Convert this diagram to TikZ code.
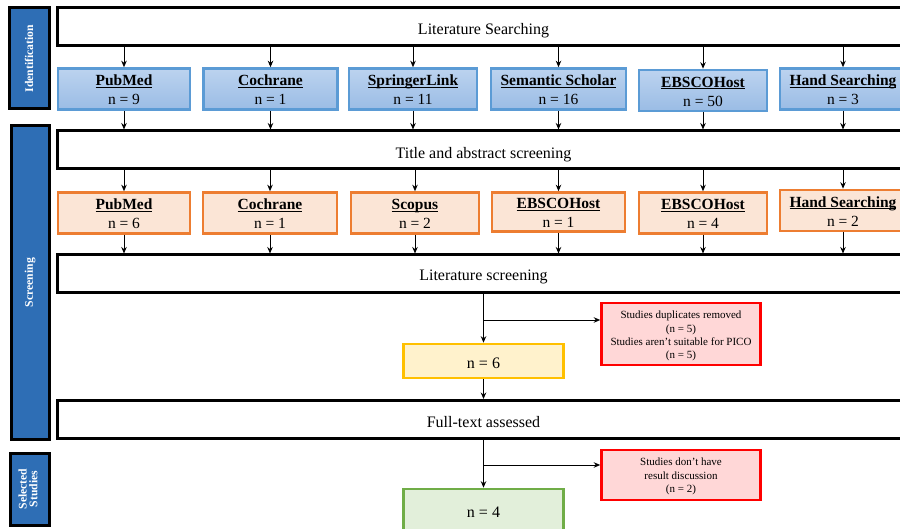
\documentclass[tikz,border=0pt]{standalone}
\usepackage{fontspec}
\setmainfont{Liberation Serif}
\usetikzlibrary{arrows.meta}
\definecolor{side}{HTML}{2E6EB5}
\definecolor{bluetop}{HTML}{BCD3EF}
\definecolor{bluebot}{HTML}{9ABCE5}
\definecolor{blueline}{HTML}{5B9BD5}
\definecolor{orfill}{HTML}{FBE5D6}
\definecolor{orline}{HTML}{ED7D31}
\definecolor{redfill}{HTML}{FFD7D7}
\definecolor{redline}{HTML}{FF0000}
\definecolor{yelfill}{HTML}{FFF2CC}
\definecolor{yelline}{HTML}{FFC000}
\definecolor{grnfill}{HTML}{E2EFDA}
\definecolor{grnline}{HTML}{70AD47}
\tikzset{
  sidebox/.style={draw=black, line width=3pt, fill=side, text=white, font=\fontsize{11.7}{12.5}\selectfont\bfseries, inner sep=0pt, align=center},
  stagebox/.style={draw=black, line width=3pt, fill=white, minimum height=38pt, minimum width=853pt, inner sep=0pt, font=\fontsize{16}{18}\selectfont},
  bluebox/.style={draw=blueline, line width=2.6pt, top color=bluetop, bottom color=bluebot, minimum height=41pt, inner sep=0pt, font=\fontsize{15.5}{19}\selectfont},
  orbox/.style={draw=orline, line width=2.6pt, fill=orfill, minimum height=41pt, inner sep=0pt, font=\fontsize{15.5}{19}\selectfont},
  redbox/.style={draw=redline, line width=2.6pt, fill=redfill, minimum width=159pt, inner sep=0pt, font=\fontsize{11}{13.3}\selectfont},
  resbox/.style={line width=2.6pt, minimum width=160pt, inner sep=0pt, font=\fontsize{16}{18}\selectfont},
  arr/.style={draw=black, line width=0.9pt, -{Stealth[length=6.5pt,width=5.5pt]}},
}
\newsavebox{\hdbox}
\newcommand{\hd}[1]{\sbox{\hdbox}{\bfseries #1}\rlap{\rule[-1.8pt]{\wd\hdbox}{1pt}}\usebox{\hdbox}}
\newcommand{\dn}[2][3pt]{\raisebox{-#1}[\height][\depth]{#2}}
\newcommand{\two}[2]{\dn[2.5pt]{\begin{tabular}{@{}c@{}}\hd{#1}\\#2\end{tabular}}}
\begin{document}
\begin{tikzpicture}[x=1pt,y=-1pt]
\useasboundingbox (0,0) rectangle (900,529);
\clip (0,0) rectangle (900,529);
\fill[white] (0,0) rectangle (900,529);

% side bars
\node[sidebox, minimum width=40pt, minimum height=101pt] (sid) at (29,58.5) {\rotatebox{90}{Identification}};
\node[sidebox, minimum width=38pt, minimum height=313pt] (scr) at (30,282.5) {\rotatebox{90}{Screening}};
\node[sidebox, minimum width=39pt, minimum height=72pt] (sel) at (29.5,489) {\rotatebox{90}{\begin{tabular}{@{}c@{}}Selected\\[-2pt]Studies\end{tabular}}};

% stage boxes
\node[stagebox] (lit) at (483.5,27) {\dn[3.5pt]{Literature Searching}};
\node[stagebox] (tas) at (483.5,150) {\dn[4.5pt]{Title and abstract screening}};
\node[stagebox] (lsc) at (483.5,274) {\dn[3pt]{Literature screening}};
\node[stagebox] (fta) at (483.5,419.5) {\dn[2.5pt]{Full-text assessed}};

% blue boxes
\node[bluebox, minimum width=132pt] (b1) at (124,89) {\two{PubMed}{n = 9}};
\node[bluebox, minimum width=134pt] (b2) at (270.5,89) {\two{Cochrane}{n = 1}};
\node[bluebox, minimum width=128pt] (b3) at (413,89) {\two{SpringerLink}{n = 11}};
\node[bluebox, minimum width=135pt] (b4) at (558.5,89) {\two{Semantic Scholar}{n = 16}};
\node[bluebox, minimum width=128pt] (b5) at (703,90.5) {\two{EBSCOHost}{n = 50}};
\node[bluebox, minimum width=126pt] (b6) at (843,89) {\two{Hand Searching}{n = 3}};

% orange boxes
\node[orbox, minimum width=132pt] (o1) at (124,213) {\two{PubMed}{n = 6}};
\node[orbox, minimum width=134pt] (o2) at (270,213) {\two{Cochrane}{n = 1}};
\node[orbox, minimum width=128pt] (o3) at (415,213) {\two{Scopus}{n = 2}};
\node[orbox, minimum width=133pt, minimum height=39pt] (o4) at (558.5,212) {\two{EBSCOHost}{n = 1}};
\node[orbox, minimum width=128pt] (o5) at (703,213) {\two{EBSCOHost}{n = 4}};
\node[orbox, minimum width=126pt] (o6) at (843,210.5) {\two{Hand Searching}{n = 2}};

% arrows
\foreach \b in {b1,b2,b3,b4,b5,b6}{
  \draw[arr] (lit.south -| \b.north) -- (\b.north);
  \draw[arr] (\b.south) -- (tas.north -| \b.south);
}
\foreach \o in {o1,o2,o3,o4,o5,o6}{
  \draw[arr] (tas.south -| \o.north) -- (\o.north);
  \draw[arr] (\o.south) -- (lsc.north -| \o.south);
}

% screening results
\node[redbox, minimum height=62pt] (r1) at (681,334) {\dn[2pt]{\begin{tabular}{@{}c@{}}Studies duplicates removed\\(n = 5)\\Studies aren’t suitable for PICO\\(n = 5)\end{tabular}}};
\node[resbox, draw=yelline, fill=yelfill, minimum height=34pt] (n6) at (483.5,361) {\dn[2.5pt]{n = 6}};
\coordinate (j1) at (483.5,320);
\draw[arr] (lsc.south -| n6.north) -- (n6.north);
\draw[arr] (j1) -- (r1.west |- j1);
\draw[arr] (n6.south) -- (fta.north -| n6.south);

\node[redbox, minimum height=50pt] (r2) at (681,475) {\dn[1.5pt]{\begin{tabular}{@{}c@{}}Studies don’t have\\result discussion\\(n = 2)\end{tabular}}};
\node[resbox, draw=grnline, fill=grnfill, minimum height=44pt] (n4) at (483.5,511) {\dn[1pt]{n = 4}};
\coordinate (j2) at (483.5,465);
\draw[arr] (fta.south -| n4.north) -- (n4.north);
\draw[arr] (j2) -- (r2.west |- j2);
\end{tikzpicture}
\end{document}
